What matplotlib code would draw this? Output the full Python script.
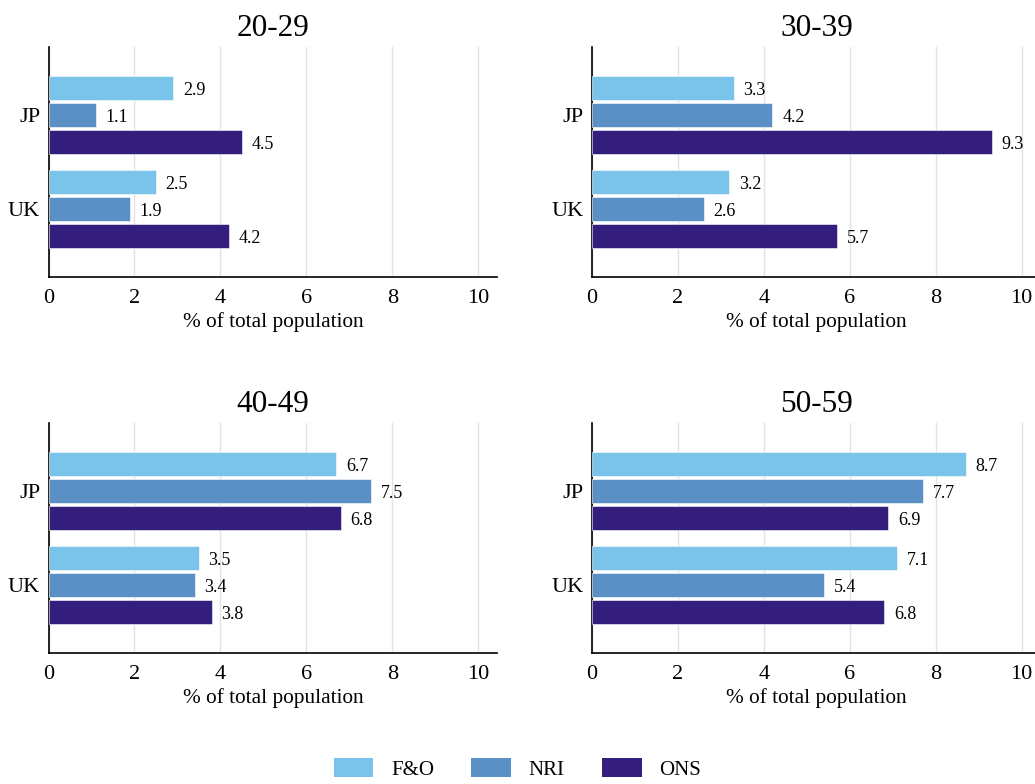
import numpy as np
import matplotlib
matplotlib.use('Agg')
import matplotlib.pyplot as plt
from matplotlib.patches import Patch

plt.rcParams['font.family'] = ['Liberation Serif', 'DejaVu Serif']

# data
groups = ['20-29', '30-39', '40-49', '50-59']
countries = ['UK', 'JP']
series = ['F&O', 'NRI', 'ONS']
colors = ['#7ac3eb', '#5a90c6', '#331e7e']

fo_jp = [2.9, 3.3, 6.7, 8.7]
nri_jp = [1.1, 4.2, 7.5, 7.7]
ons_jp = [4.5, 9.3, 6.8, 6.9]
fo_uk = [2.5, 3.2, 3.5, 7.1]
nri_uk = [1.9, 2.6, 3.4, 5.4]
ons_uk = [4.2, 5.7, 3.8, 6.8]

fig = plt.figure(figsize=(10.35, 7.84), dpi=100)

w = 0.4338
h = 230 / 784
positions = [
    [48.5 / 1035, 1 - 277 / 784, w, h],
    [592 / 1035, 1 - 277 / 784, w, h],
    [48.5 / 1035, 1 - 653 / 784, w, h],
    [592 / 1035, 1 - 653 / 784, w, h],
]

y = np.arange(len(countries))
offsets = [0.287, 0.0, -0.287]
bar_h = 0.262

for i, g in enumerate(groups):
    ax = fig.add_axes(positions[i])
    vals = [
        [fo_uk[i], fo_jp[i]],
        [nri_uk[i], nri_jp[i]],
        [ons_uk[i], ons_jp[i]],
    ]
    for s, name in enumerate(series):
        bars = ax.barh(y + offsets[s], vals[s], height=bar_h, color=colors[s],
                       edgecolor='white', linewidth=0.4, zorder=3)
        for b, v in zip(bars, vals[s]):
            ax.annotate('{:.1f}'.format(v), (b.get_width(), b.get_y() + b.get_height() / 2),
                        xytext=(7, -2), textcoords='offset points',
                        ha='left', va='center', fontsize=13)
    ax.set_xlim(0, 10.45)
    ax.set_ylim(-0.723, 1.724)
    ax.set_xticks([0, 2, 4, 6, 8, 10])
    ax.set_yticks(y)
    ax.set_yticklabels(countries)
    ax.tick_params(axis='both', length=0, labelsize=16)
    ax.tick_params(axis='x', pad=8.5)
    ax.tick_params(axis='y', pad=6)
    ax.xaxis.grid(True, color='#e3e3e3', linewidth=1, zorder=0)
    ax.set_axisbelow(True)
    for sp in ['top', 'right']:
        ax.spines[sp].set_visible(False)
    ax.spines['left'].set_linewidth(1.2)
    ax.spines['bottom'].set_linewidth(1.2)
    ax.set_title(g, fontsize=22.5, pad=8)
    ax.set_xlabel('% of total population', fontsize=15.3, labelpad=3)

handles = [Patch(facecolor=c, label=n) for c, n in zip(colors, series)]
fig.legend(handles=handles, loc='center', bbox_to_anchor=(0.5, 0.019), ncol=3,
           frameon=False, fontsize=15, handlelength=1.9, handleheight=1.0,
           columnspacing=1.8, handletextpad=0.85)

fig.savefig('out.png', dpi=100)
